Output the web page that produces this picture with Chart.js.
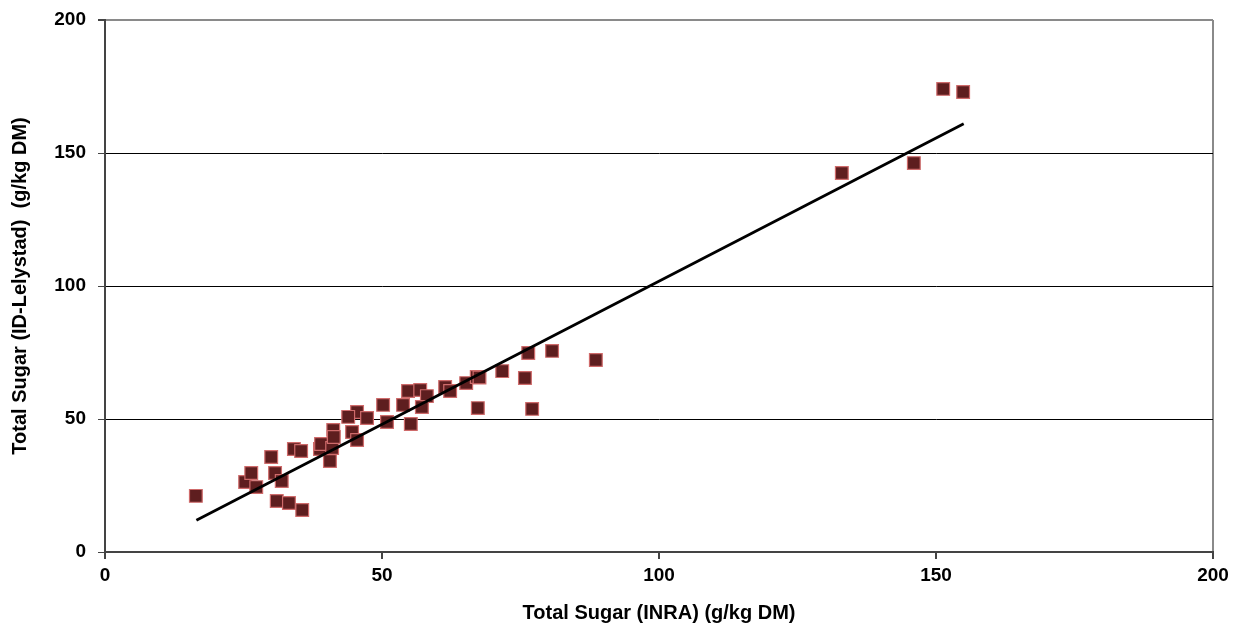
<!DOCTYPE html>
<html>
<head>
<meta charset="utf-8">
<script src="https://cdn.jsdelivr.net/npm/chart.js@4"></script>
<style>
  html, body { margin: 0; padding: 0; background: #fff; }
  #wrap { width: 1242px; height: 628px; }
</style>
</head>
<body>
<div id="wrap"><canvas id="sugarChart" width="1242" height="628"></canvas></div>
<script>
// Total sugar, INRA (x) vs ID-Lelystad (y), g/kg DM
const inraX = [16.4, 25.3, 26.4, 27.3, 30.0, 30.7, 31.9, 31.0, 33.2, 34.1, 35.4, 35.6,
  38.8, 39.0, 41.0, 40.6, 41.2, 41.3, 44.6, 45.5, 43.9, 47.3, 45.5, 50.2, 50.9,
  53.8, 54.7, 56.9, 58.1, 57.2, 55.2, 61.4, 62.3, 65.2, 67.1, 67.6, 71.7, 76.4,
  80.7, 88.6, 75.8, 67.3, 77.1, 133.0, 146.0, 151.3, 154.9];
const lelyY = [21.1, 26.3, 29.7, 24.4, 35.7, 29.7, 26.7, 19.2, 18.4, 38.7, 38.0, 15.8,
  38.7, 40.6, 39.1, 34.2, 45.9, 43.2, 45.1, 52.6, 50.8, 50.4, 42.1, 55.3, 48.9,
  55.3, 60.5, 60.9, 58.6, 54.5, 48.1, 62.0, 60.5, 63.5, 65.8, 65.6, 68.0, 74.8,
  75.6, 72.2, 65.4, 54.1, 53.8, 142.5, 146.2, 174.1, 172.9];

// trend line end points
const trendX = [16.5, 155];
const trendY = [11.9, 161];

const axisTicks = [0, 50, 100, 150, 200];

const points = inraX.map((x, i) => ({ x: x, y: lelyY[i] }));
const trend = trendX.map((x, i) => ({ x: x, y: trendY[i] }));

const tickFont = { family: 'Liberation Sans, Arial, sans-serif', size: 19, weight: 'bold' };
const titleFont = { family: 'Liberation Sans, Arial, sans-serif', size: 20, weight: 'bold' };

new Chart(document.getElementById('sugarChart').getContext('2d'), {
  type: 'scatter',
  data: {
    datasets: [{
      type: 'line',
      data: trend,
      borderColor: '#000',
      borderWidth: 2.8,
      pointRadius: 0,
      fill: false
    }, {
      data: points,
      pointStyle: 'rect',
      pointRadius: 9,
      pointBackgroundColor: '#5e1e1f',
      pointBorderColor: '#cf6b6b',
      pointBorderWidth: 1.2
    }]
  },
  options: {
    responsive: false,
    animation: false,
    layout: { padding: { top: 20, right: 29, left: 0, bottom: 0 } },
    plugins: { legend: { display: false }, tooltip: { enabled: false } },
    scales: {
      x: {
        type: 'linear',
        min: 0, max: 200,
        afterBuildTicks: (axis) => { axis.ticks = axisTicks.map(v => ({ value: v })); },
        afterFit: (axis) => { axis.height = 76; axis.paddingLeft = 0; axis.paddingRight = 0; },
        border: { color: '#444', width: 2 },
        grid: {
          color: (ctx) => ctx.tick && ctx.tick.value === 200 ? '#8a8a8a' : 'rgba(0,0,0,0)',
          lineWidth: 2,
          tickColor: '#444',
          tickLength: 7
        },
        ticks: { color: '#000', font: tickFont, padding: 5 },
        title: { display: true, text: 'Total Sugar (INRA) (g/kg DM)', color: '#000', font: titleFont, padding: { top: 4, bottom: 3 } }
      },
      y: {
        type: 'linear',
        min: 0, max: 200,
        afterBuildTicks: (axis) => { axis.ticks = axisTicks.map(v => ({ value: v })); },
        afterFit: (axis) => { axis.width = 105; axis.paddingTop = 0; axis.paddingBottom = 0; },
        border: { color: '#444', width: 2 },
        grid: {
          color: (ctx) => ctx.tick && ctx.tick.value === 200 ? '#8a8a8a' : '#000',
          lineWidth: (ctx) => ctx.tick && ctx.tick.value === 200 ? 2 : 1,
          tickColor: '#444',
          tickLength: 7
        },
        ticks: { color: '#000', font: tickFont, padding: 12 },
        title: { display: true, text: 'Total Sugar (ID-Lelystad)  (g/kg DM)', color: '#000', font: titleFont, padding: { top: 8, bottom: 4 } }
      }
    }
  }
});
</script>
</body>
</html>
